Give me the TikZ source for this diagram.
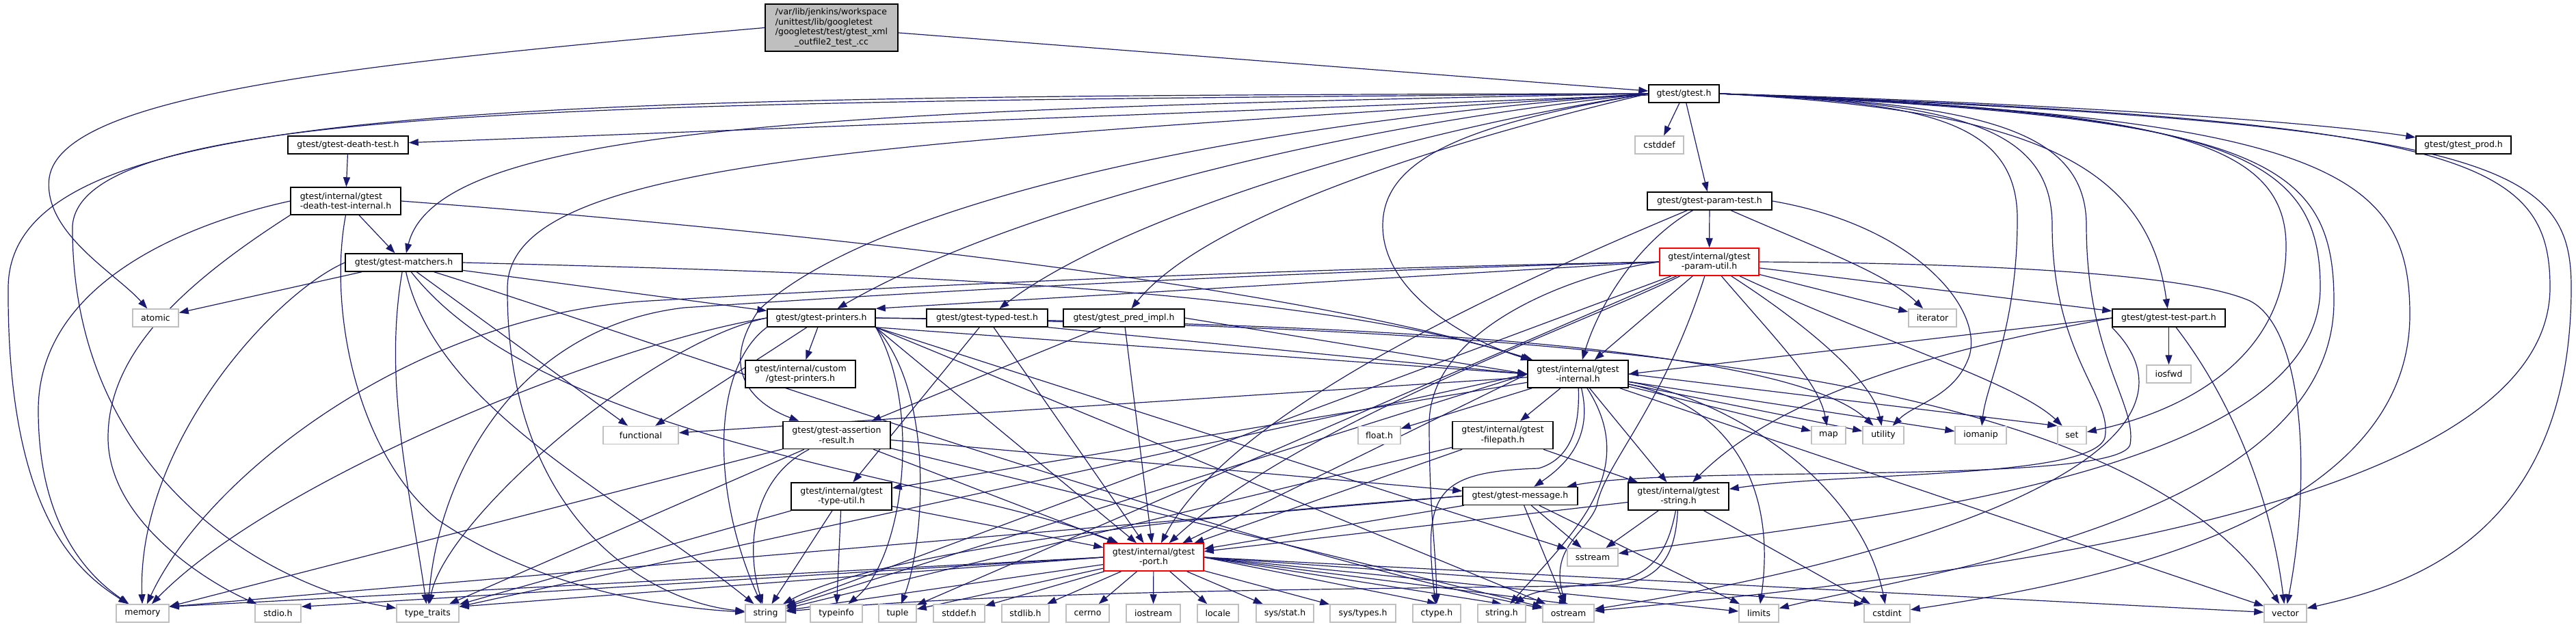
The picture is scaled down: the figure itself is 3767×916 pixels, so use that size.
\documentclass[tikz,border=0pt]{standalone}
\usepackage{fontspec}
\setmainfont{DejaVu Sans}
\usetikzlibrary{arrows.meta}
\definecolor{edgec}{HTML}{191970}
\definecolor{grayb}{HTML}{BFBFBF}
\pgfdeclarelayer{back}
\pgfdeclarelayer{edges}
\pgfsetlayers{back,edges,main}
\tikzset{
 nb/.style={draw=black, line width=1.5pt, fill=white, inner sep=0pt, minimum height=26pt, align=center, font=\fontsize{12.5}{14.5}\selectfont},
 sys/.style={nb, draw=grayb},
 trunc/.style={nb, draw=red},
 two/.style={minimum height=40pt},
 e/.style={draw=edgec, line width=1.2pt, -{Triangle[length=14pt,width=10pt]}},
}
\begin{document}
\begin{tikzpicture}[x=1pt,y=-1pt]
\begin{pgfonlayer}{back}
\fill[white] (0,0) rectangle (3767,916);
\end{pgfonlayer}
\useasboundingbox (0,0) rectangle (3767,916);
% nodes
\node[nb, fill=grayb, minimum width=194pt, minimum height=69pt] (main) at (1216,40.5) {\begin{tabular}{@{}l@{}}/var/lib/jenkins/workspace\\/unittest/lib/googletest\\/googletest/test/gtest\_xml\\\multicolumn{1}{@{}c@{}}{\_outfile2\_test\_.cc}\end{tabular}};
\node[nb, minimum width=103pt] (gt) at (2462.5,137) {gtest/gtest.h};
\node[sys, minimum width=71pt] (cstddef) at (2426.5,212) {cstddef};
\node[nb, minimum width=182pt] (ptest) at (2500,294) {gtest/gtest-param-test.h};
\node[nb, minimum width=139pt] (prod) at (3602.5,212) {gtest/gtest\_prod.h};
\node[nb, minimum width=176pt] (death) at (509,212) {gtest/gtest-death-test.h};
\node[nb, two, align=left, minimum width=161pt] (dti) at (505.5,294) {gtest/internal/gtest\\-death-test-internal.h};
\node[nb, minimum width=171pt] (match) at (590.5,384) {gtest/gtest-matchers.h};
\node[sys, minimum width=67pt] (atomic) at (227.5,465) {atomic};
\node[trunc, two, minimum width=145pt] (putil) at (2499.5,383) {gtest/internal/gtest\\-param-util.h};
\node[sys, minimum width=70pt] (iter) at (2826,465) {iterator};
\node[nb, minimum width=165pt] (tpart) at (3171.5,465) {gtest/gtest-test-part.h};
\node[sys, minimum width=65pt] (iosfwd) at (3171.5,547) {iosfwd};
\node[nb, minimum width=158pt] (printers) at (1201,465) {gtest/gtest-printers.h};
\node[nb, minimum width=177pt] (typed) at (1443.5,465) {gtest/gtest-typed-test.h};
\node[nb, minimum width=177pt] (pred) at (1643.5,465) {gtest/gtest\_pred\_impl.h};
\node[nb, two, minimum width=161pt] (cprint) at (1170.5,547) {gtest/internal/custom\\/gtest-printers.h};
\node[nb, two, minimum width=147pt] (internal) at (2307.5,547) {gtest/internal/gtest\\-internal.h};
\node[sys, minimum width=110pt] (functional) at (937,636.5) {functional};
\node[nb, two, minimum width=157pt] (assert) at (1223.5,636.5) {gtest/gtest-assertion\\-result.h};
\node[sys, minimum width=62pt] (floath) at (2017,636.5) {float.h};
\node[nb, two, minimum width=147pt] (filepath) at (2197.5,636.5) {gtest/internal/gtest\\-filepath.h};
\node[sys, minimum width=50pt] (map) at (2674,636.5) {map};
\node[sys, minimum width=60pt] (utility) at (2754,636.5) {utility};
\node[sys, minimum width=75pt] (iomanip) at (2896.5,636.5) {iomanip};
\node[sys, minimum width=42pt] (set) at (3030,636.5) {set};
\node[nb, two, minimum width=147pt] (typeutil) at (1230.5,726) {gtest/internal/gtest\\-type-util.h};
\node[nb, minimum width=168pt] (message) at (2223,725.5) {gtest/gtest-message.h};
\node[nb, two, minimum width=147pt] (gstring) at (2454.5,726) {gtest/internal/gtest\\-string.h};
\node[sys, minimum width=74pt] (sstream) at (2329,815) {sstream};
\node[trunc, two, minimum width=146pt] (port) at (1687,815) {gtest/internal/gtest\\-port.h};
\node[sys, minimum width=77pt] (memory) at (208.5,897) {memory};
\node[sys, minimum width=67pt] (stdio) at (406.5,897) {stdio.h};
\node[sys, minimum width=91pt] (traits) at (625.5,897) {type\_traits};
\node[sys, minimum width=59pt] (string) at (1119.5,897) {string};
\node[sys, minimum width=76pt] (typeinfo) at (1223,897) {typeinfo};
\node[sys, minimum width=55pt] (tuple) at (1312.5,897) {tuple};
\node[sys, minimum width=75pt] (stddef) at (1402.5,897) {stddef.h};
\node[sys, minimum width=69pt] (stdlib) at (1499.5,897) {stdlib.h};
\node[sys, minimum width=63pt] (cerrno) at (1590.5,897) {cerrno};
\node[sys, minimum width=79pt] (iostream) at (1686.5,897) {iostream};
\node[sys, minimum width=60pt] (locale) at (1781,897) {locale};
\node[sys, minimum width=84pt] (sysstat) at (1879,897) {sys/stat.h};
\node[sys, minimum width=96pt] (systypes) at (1993,897) {sys/types.h};
\node[sys, minimum width=70pt] (ctype) at (2101,897) {ctype.h};
\node[sys, minimum width=70pt] (stringh) at (2196,897) {string.h};
\node[sys, minimum width=75pt] (ostream) at (2293.5,897) {ostream};
\node[sys, minimum width=58pt] (limits) at (2572,897) {limits};
\node[sys, minimum width=67pt] (cstdint) at (2759.5,897) {cstdint};
\node[sys, minimum width=62pt] (vector) at (3342,897) {vector};

\begin{pgfonlayer}{edges}
% main
\draw[e] (main) -- (gt);
\draw[e] (main.west) .. controls (500,95) and (90,140) .. (72,260) .. controls (62,340) and (170,400) .. (atomic);
% gtest.h left
\draw[e] (gt) -- (cstddef);
\draw[e] (gt) -- (ptest);
\draw[e] (gt) -- (death);
\draw[e] (gt.west) .. controls (1200,160) and (640,185) .. (match);
\draw[e] (gt.west) .. controls (700,140) and (15,150) .. (12,420) .. controls (10,760) and (120,840) .. (memory);
\draw[e] (gt.west) .. controls (900,150) and (120,150) .. (106,330) .. controls (104,700) and (400,860) .. (traits);
\draw[e] (gt.west) .. controls (1300,210) and (745,230) .. (742,420) .. controls (740,760) and (950,880) .. (string);
\draw[e] (gt.west) .. controls (1700,190) and (1250,320) .. (1110,453) .. controls (1050,540) and (1100,590) .. (assert);
\draw[e] (gt.west) .. controls (1900,190) and (1450,320) .. (printers);
\draw[e] (gt.west) .. controls (2000,200) and (1620,330) .. (typed);
\draw[e] (gt.west) .. controls (2100,210) and (1760,320) .. (pred);
\draw[e] (gt.west) .. controls (2150,180) and (2022,230) .. (2022,330) .. controls (2022,430) and (2150,500) .. (internal);
% gtest.h right
\draw[e] (gt.east) .. controls (3000,150) and (3400,180) .. (prod);
\draw[e] (gt.east) .. controls (2950,160) and (3140,230) .. (tpart);
\draw[e] (gt.east) .. controls (2800,150) and (2950,170) .. (2950,320) .. controls (2950,480) and (2905,560) .. (iomanip);
\draw[e] (gt.east) .. controls (2850,150) and (3001,180) .. (3001,330) .. controls (3001,520) and (3090,580) .. (3078,640) .. controls (3060,700) and (2700,690) .. (gstring);
\draw[e] (gt.east) .. controls (2900,150) and (3051,190) .. (3051,330) .. controls (3051,520) and (3125,590) .. (3115,650) .. controls (3100,710) and (2450,680) .. (message);
\draw[e] (gt.east) .. controls (3150,160) and (3343,200) .. (3343,360) .. controls (3343,520) and (3200,600) .. (set);
\draw[e] (gt.east) .. controls (3250,165) and (3393,220) .. (3393,420) .. controls (3393,700) and (2700,760) .. (sstream);
\draw[e] (gt.east) .. controls (3300,170) and (3413,230) .. (3413,440) .. controls (3413,760) and (2800,840) .. (limits);
\draw[e] (gt.east) .. controls (3400,170) and (3524,250) .. (3524,460) .. controls (3524,780) and (3000,860) .. (cstdint);
\draw[e] (gt.east) .. controls (3600,175) and (3729,230) .. (3729,420) .. controls (3729,740) and (2900,840) .. (ostream);
\draw[e] (gt.east) .. controls (3650,180) and (3760,240) .. (3760,420) .. controls (3760,800) and (3500,860) .. (vector);
% death tests
\draw[e] (death) -- (dti);
\draw[e] (dti) -- (match);
\draw[e] (dti.east) .. controls (1200,340) and (1900,420) .. (internal);
\draw[e] (dti.west) .. controls (260,330) and (56,420) .. (56,600) .. controls (56,780) and (140,850) .. (memory);
\draw[e] (dti.south west) .. controls (260,420) and (158,520) .. (158,640) .. controls (158,760) and (300,850) .. (stdio);
\draw[e] (dti.south) .. controls (480,450) and (520,660) .. (640,760) .. controls (800,870) and (1000,890) .. (string);
% matchers
\draw[e] (match) -- (atomic);
\draw[e] (match) -- (functional);
\draw[e] (match) -- (printers);
\draw[e] (match.east) .. controls (1300,400) and (1900,420) .. (internal);
\draw[e] (match.west) .. controls (400,430) and (200,650) .. (memory);
\draw[e] (match) .. controls (560,560) and (600,720) .. (traits);
\draw[e] (match) .. controls (640,600) and (900,720) .. (string);
\draw[e] (match) .. controls (800,650) and (1400,700) .. (port);
\draw[e] (match) .. controls (900,480) and (1800,800) .. (ostream);
% param-test
\draw[e] (ptest) -- (putil);
\draw[e] (ptest) .. controls (2650,360) and (2760,400) .. (iter);
\draw[e] (ptest.east) .. controls (2800,330) and (2900,450) .. (2880,520) .. controls (2860,580) and (2800,590) .. (utility);
\draw[e] (ptest) .. controls (2400,350) and (2340,440) .. (internal);
\draw[e] (ptest) .. controls (2200,420) and (1800,600) .. (port);
% param-util
\draw[e] (putil.west) -- (printers.north east);
\draw[e] (putil.west) .. controls (1800,395) and (1300,420) .. (950,440) .. controls (600,460) and (300,700) .. (memory);
\draw[e] (putil.west) .. controls (1800,400) and (1300,430) .. (1000,450) .. controls (750,480) and (640,700) .. (traits);
\draw[e] (putil) -- (string);
\draw[e] (putil) -- (tuple);
\draw[e] (putil) -- (internal);
\draw[e] (putil) -- (iter);
\draw[e] (putil) -- (tpart);
\draw[e] (putil) .. controls (2600,500) and (2660,560) .. (map);
\draw[e] (putil) .. controls (2650,480) and (2740,560) .. (utility);
\draw[e] (putil) .. controls (2750,500) and (2950,560) .. (set);
\draw[e] (putil.east) .. controls (2900,385) and (3200,400) .. (3290,440) .. controls (3370,480) and (3380,700) .. (vector);
\draw[e] (putil.west) .. controls (2300,400) and (2090,480) .. (2090,620) .. controls (2090,750) and (2100,800) .. (ctype);
\draw[e] (putil) .. controls (2430,600) and (2345,680) .. (2335,740) .. controls (2320,780) and (2265,800) .. (ostream);
\draw[e] (putil) .. controls (2300,480) and (1900,620) .. (port);
% printers
\draw[e] (printers) -- (cprint);
\draw[e] (printers) -- (functional);
\draw[e] (printers.west) .. controls (900,500) and (400,700) .. (memory);
\draw[e] (printers.west) .. controls (950,500) and (650,760) .. (traits);
\draw[e] (printers.south west) .. controls (1040,540) and (1040,720) .. (string);
\draw[e] (printers.south east) .. controls (1350,600) and (1320,820) .. (typeinfo);
\draw[e] (printers.south east) .. controls (1370,580) and (1350,800) .. (tuple);
\draw[e] (printers.south east) -- (internal.west);
\draw[e] (printers.south east) -- (port);
\draw[e] (printers.south east) -- (ostream);
\draw[e] (printers.south east) -- (sstream);
\draw[e] (printers.east) .. controls (1800,470) and (2600,490) .. (utility);
\draw[e] (printers.east) .. controls (2200,480) and (3100,520) .. (vector);
% typed / pred
\draw[e] (typed.south east) -- (internal.west);
\draw[e] (typed) -- (port);
\draw[e] (typed) -- (typeutil);
\draw[e] (pred) -- (assert);
\draw[e] (pred.east) -- (internal.west);
\draw[e] (pred) -- (port);
% test-part
\draw[e] (tpart) -- (iosfwd);
\draw[e] (tpart.west) -- (internal.east);
\draw[e] (tpart.west) .. controls (2900,500) and (2620,560) .. (gstring);
\draw[e] (tpart.south west) .. controls (3250,640) and (2900,800) .. (ostream);
\draw[e] (tpart) .. controls (3260,580) and (3320,720) .. (vector);
% internal
\draw[e] (internal.west) -- (port);
\draw[e] (internal) -- (floath);
\draw[e] (internal) -- (filepath);
\draw[e] (internal) -- (gstring);
\draw[e] (internal) .. controls (2330,640) and (2290,680) .. (message);
\draw[e] (internal) -- (map);
\draw[e] (internal) -- (utility);
\draw[e] (internal) -- (iomanip);
\draw[e] (internal.east) -- (set.north west);
\draw[e] (internal) -- (vector);
\draw[e] (internal) .. controls (2520,590) and (2600,700) .. (limits);
\draw[e] (internal) .. controls (2520,580) and (2720,700) .. (cstdint);
\draw[e] (internal) .. controls (2310,620) and (2300,670) .. (2250,685) .. controls (2100,690) and (2080,720) .. (ctype);
\draw[e] (internal) .. controls (2400,690) and (2300,780) .. (stringh);
\draw[e] (internal) -- (functional);
\draw[e] (internal.west) -- (string);
\draw[e] (internal.west) -- (traits);
\draw[e] (internal) -- (typeutil);
% assertion-result
\draw[e] (assert) -- (memory);
\draw[e] (assert) -- (traits);
\draw[e] (assert) .. controls (1100,700) and (1090,800) .. (string);
\draw[e] (assert) -- (ostream);
\draw[e] (assert) -- (message);
\draw[e] (assert) -- (port);
% filepath
\draw[e] (filepath) -- (string);
\draw[e] (filepath) -- (port);
\draw[e] (filepath) -- (gstring);
% type-util
\draw[e] (typeutil) -- (string);
\draw[e] (typeutil) -- (traits);
\draw[e] (typeutil) -- (typeinfo);
\draw[e] (typeutil) -- (port);
% message
\draw[e] (message) -- (port);
\draw[e] (message) -- (sstream);
\draw[e] (message) -- (ostream);
\draw[e] (message) -- (limits);
\draw[e] (message.west) -- ([yshift=-4pt]memory.north east);
\draw[e] (message.west) .. controls (1800,750) and (1300,800) .. (string);
% gtest-string
\draw[e] (gstring) -- (sstream);
\draw[e] (gstring) .. controls (2440,800) and (2420,845) .. (2350,852) .. controls (2280,858) and (2240,865) .. (stringh);
\draw[e] (gstring) .. controls (2450,810) and (2430,850) .. (2360,856) .. controls (2000,862) and (1500,862) .. (string);
\draw[e] (gstring) -- (cstdint);
\draw[e] (gstring) -- (port);
% port
\draw[e] (port.west) -- ([yshift=-4pt]memory.north east);
\draw[e] (port.west) -- ([yshift=-4pt]stdio.north east);
\draw[e] (port.west) -- ([yshift=-4pt]traits.north east);
\draw[e] (port) -- (string);
\draw[e] (port) -- (tuple);
\draw[e] (port) -- (stddef);
\draw[e] (port) -- (stdlib);
\draw[e] (port) -- (cerrno);
\draw[e] (port) -- (iostream);
\draw[e] (port) -- (locale);
\draw[e] (port) -- (sysstat);
\draw[e] (port) -- (systypes);
\draw[e] (port.east) -- (ctype.north);
\draw[e] (port.east) -- (stringh.north);
\draw[e] (port.east) -- (ostream.north);
\draw[e] (port.east) -- (limits);
\draw[e] (port.east) -- (cstdint.north west);
\draw[e] (port.east) -- (vector);
\end{pgfonlayer}
\end{tikzpicture}
\end{document}
